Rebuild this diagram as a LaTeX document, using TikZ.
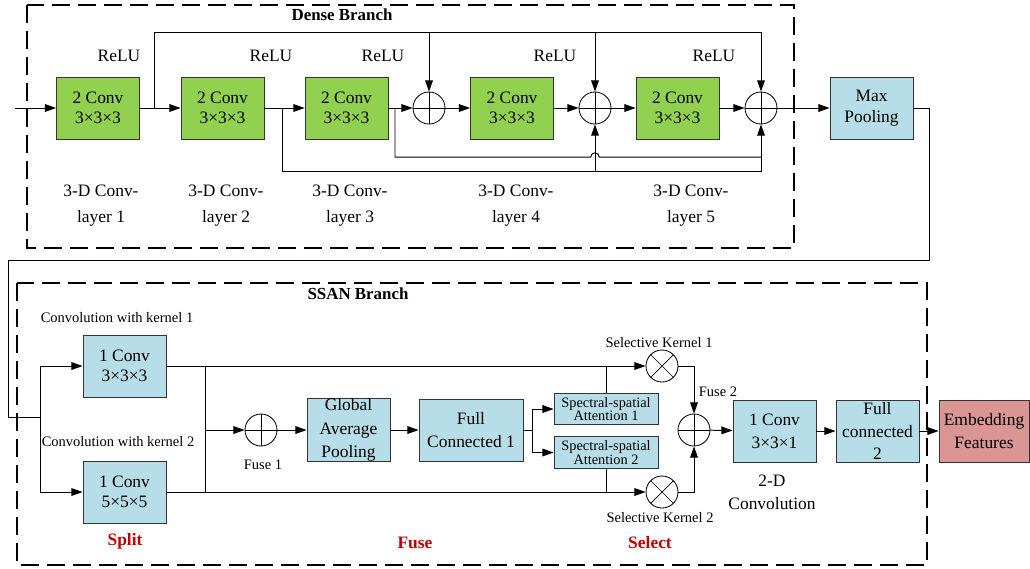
\documentclass[tikz,border=0pt]{standalone}
\usepackage{fontspec}
\setmainfont{Liberation Serif}
\usetikzlibrary{arrows.meta, positioning, calc}

\definecolor{convgreen}{HTML}{92D050}
\definecolor{boxblue}{HTML}{B7DDE8}
\definecolor{embred}{HTML}{D99694}
\definecolor{stagered}{HTML}{C00000}

\tikzset{
  conv/.style={draw=black!80, line width=0.6pt, fill=convgreen, minimum width=2.075cm, minimum height=1.55cm,
    inner sep=0pt, align=center, font=\fontsize{12.4}{14.5}\selectfont},
  blk/.style={conv, fill=boxblue},
  tall/.style={blk, font=\fontsize{12.4}{16.5}\selectfont},
  att/.style={draw=black!80, line width=0.6pt, fill=boxblue, minimum width=2.6cm, minimum height=0.78cm,
    inner sep=0pt, align=center, font=\fontsize{10.2}{9.6}\selectfont},
  sumc/.style={circle, draw, line width=0.6pt, minimum size=0.8cm, inner sep=0pt,
    path picture={\draw[line width=0.5pt] (path picture bounding box.north) -- (path picture bounding box.south)
      (path picture bounding box.west) -- (path picture bounding box.east);}},
  prodc/.style={circle, draw, line width=0.6pt, minimum size=0.8cm, inner sep=0pt,
    path picture={\draw[line width=0.5pt] ($(path picture bounding box.center)+(45:0.4cm)$) -- ($(path picture bounding box.center)+(225:0.4cm)$)
      ($(path picture bounding box.center)+(135:0.4cm)$) -- ($(path picture bounding box.center)+(315:0.4cm)$);}},
  arr/.style={-{Triangle[length=8pt,width=5.5pt]}},
  txt/.style={align=center, font=\fontsize{12.4}{18.5}\selectfont},
  small/.style={align=center, font=\fontsize{10.3}{12}\selectfont},
  title/.style={font=\bfseries\fontsize{12}{14}\selectfont},
  stage/.style={font=\bfseries\fontsize{12.4}{14}\selectfont, text=stagered},
  branch/.style={dash pattern=on 12.8pt off 5.7pt, line width=0.9pt},
}

\begin{document}
\begin{tikzpicture}[x=0.025cm, y=-0.025cm, line width=0.7pt]
        \useasboundingbox (0,0) rectangle (1030,568);
        % Dense branch
        \draw[branch] (27,5) rectangle (794,248);
        \node[title] (dtitle) at (342,15) {Dense Branch};
        \node[conv] (b1) at (98,108) {2 Conv\\3×3×3};
        \node[conv] (b2) at (222.5,108) {2 Conv\\3×3×3};
        \node[conv] (b3) at (346.5,108) {2 Conv\\3×3×3};
        \node[sumc] (c1) at (429,108) {};
        \node[conv] (b4) at (512,108) {2 Conv\\3×3×3};
        \node[sumc] (c2) at (595,108) {};
        \node[conv] (b5) at (677.5,108) {2 Conv\\3×3×3};
        \node[sumc] (c3) at (761,108) {};
        \node[blk] (mp) at (871.5,108) {Max\\Pooling};
        \foreach \x/\n in {119/1, 271/2, 383/3, 555/4, 714/5}
          \node[txt] (relu\n) at (\x,56) {ReLU};
        \foreach \x/\n in {101/1, 226/2, 350/3, 516/4, 691/5}
          \node[txt] (lay\n) at (\x,206) {3-D Conv-\\layer \n};
        \coordinate (in1) at (15,108);
        \coordinate (s1) at (154,108);
        \coordinate (top1) at (154,32);
        \coordinate (s2) at (282,108);
        \coordinate (lo2) at (282,171);
        \coordinate (s3) at (395,108);
        \coordinate (lo3) at (395,157);
        \draw[arr] (in1) -- (b1);
        \draw[arr] (b1) -- (b2);
        \draw[arr] (b2) -- (b3);
        \draw[arr] (b3) -- (c1);
        \draw[arr] (c1) -- (b4);
        \draw[arr] (b4) -- (c2);
        \draw[arr] (c2) -- (b5);
        \draw[arr] (b5) -- (c3);
        \draw[arr] (c3) -- (mp);
        \draw[arr] (s1) -- (top1) -| (c3.north);
        \draw[arr] (c1.north |- top1) -- (c1.north);
        \draw[arr] (c2.north |- top1) -- (c2.north);
        \draw[arr] (s2) -- (lo2) -| (c3.south);
        \draw[arr] (c2.south |- lo2) -- (c2.south);
        \draw (s3) -- (lo3) -- ([xshift=-3pt]c2.south |- lo3) arc[start angle=180, end angle=0, radius=3pt] -- (c3.south |- lo3);
        % link to SSAN branch
        \coordinate (r1) at (929,260);
        \coordinate (l1) at (8,260);
        \coordinate (l2) at (8,417);
        \coordinate (sp) at (40,417);
        \draw (mp.east) -| (r1) -- (l1) -- (l2) -- (sp);
        % SSAN branch
        \draw[branch] (17,283) rectangle (927,565);
        \node[title] (stitle) at (358,294) {SSAN Branch};
        \node[small] (kl1) at (117,318) {Convolution with kernel 1};
        \node[small] (kl2) at (118,442) {Convolution with kernel 2};
        \node[blk] (k1) at (124.5,366) {1 Conv\\3×3×3};
        \node[blk] (k2) at (124.5,492) {1 Conv\\5×5×5};
        \node[sumc] (f1) at (261,430) {};
        \node[small] (f1l) at (263,465) {Fuse 1};
        \node[tall] (gap) at (348.5,430) {Global\\Average\\Pooling};
        \node[tall, minimum width=2.6cm] (fc1) at (471,430) {Full\\Connected 1};
        \node[att] (sa1) at (606,409) {Spectral-spatial\\Attention 1};
        \node[att] (sa2) at (606,452.5) {Spectral-spatial\\Attention 2};
        \node[prodc] (m1) at (662,366) {};
        \node[prodc] (m2) at (662,492) {};
        \node[small] (m1l) at (659,343) {Selective Kernel 1};
        \node[small] (m2l) at (660,518) {Selective Kernel 2};
        \node[sumc] (f2) at (694,430) {};
        \node[small] (f2l) at (718,392) {Fuse 2};
        \node[tall] (c6) at (774.5,431) {1 Conv\\3×3×1};
        \node[txt, font=\fontsize{12.4}{16.5}\selectfont] (c6l) at (772,492) {2-D\\Convolution};
        \node[tall, font=\fontsize{12.4}{16}\selectfont] (fc2) at (877.5,431) {Full\\connected\\2};
        \node[tall, fill=embred, minimum width=2.25cm] (emb) at (984,431) {Embedding\\Features};
        \node[stage] (split) at (125,541) {Split};
        \node[stage] (fuse) at (415,543) {Fuse};
        \node[stage] (select) at (650,543) {Select};
        \coordinate (j1) at (205,366);
        \coordinate (j2) at (205,492);
        \coordinate (j3) at (532,430);
        \draw[arr] (sp) |- (k1);
        \draw[arr] (sp) |- (k2);
        \draw[arr] (k1) -- (m1);
        \draw[arr] (k2) -- (m2);
        \draw (j1) -- (j2);
        \draw[arr] (j1 |- f1) -- (f1);
        \draw[arr] (f1) -- (gap);
        \draw[arr] (gap) -- (fc1);
        \draw (fc1) -- (j3);
        \draw[arr] (j3) |- (sa1);
        \draw[arr] (j3) |- (sa2);
        \draw (sa1.north) -- (sa1.north |- k1);
        \draw (sa2.south) -- (sa2.south |- k2);
        \draw[arr] (m1.east) -| (f2.north);
        \draw[arr] (m2.east) -| (f2.south);
        \draw[arr] (f2) -- (c6);
        \draw[arr] (c6) -- (fc2);
        \draw[arr] (fc2) -- (emb);
\end{tikzpicture}
\end{document}
